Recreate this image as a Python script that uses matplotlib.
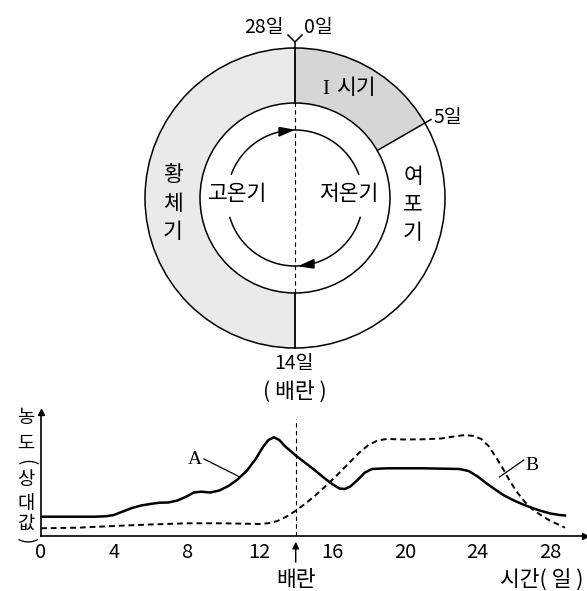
import numpy as np
import matplotlib
matplotlib.use('Agg')
import matplotlib.pyplot as plt
from matplotlib.patches import Wedge, Circle, Arc, Polygon

plt.rcParams['font.family'] = ['Noto Sans CJK KR', 'DejaVu Sans']

# --- cycle diagram (angles in degrees, 0 day at top) ---
phase_one_end_deg = 30      # 5일 boundary as drawn
outer_r, inner_r, loop_r = 150, 95, 68

# --- hormone curves: day vs relative concentration ---
days_a = [0, 3.0, 3.6, 4.0, 4.5, 5.0, 5.5, 6.0, 6.5, 7.0, 7.5, 8.0, 8.4, 8.8, 9.3, 9.8,
          10.3, 10.8, 11.3, 11.8, 12.2, 12.5, 12.8, 13.1, 13.4, 14.0, 14.5, 15.0, 15.5,
          16.0, 16.4, 16.7, 17.0, 17.4, 17.8, 18.2, 19.0, 21.0, 23.0, 23.5, 24.0, 24.5,
          25.0, 25.5, 26.0, 26.5, 27.0, 27.5, 28.0, 28.5, 28.8]
conc_a = [19.3, 19.3, 19.8, 21, 24.5, 28, 30.5, 32, 33.3, 33.5, 35.5, 39.5, 43.5, 44.3,
          43.5, 45.5, 50, 56.5, 65, 77, 89, 96, 98.7, 96, 90, 80.5, 73.5, 66.5, 59,
          52, 47.5, 47, 49.5, 56, 63.5, 67, 67.7, 67.7, 67, 65, 59.5, 52.5,
          46, 40, 35.5, 31.5, 28, 25, 22.5, 21, 20.5]
days_b = [0, 2, 4, 6, 8, 10, 12, 12.5, 13.0, 13.5, 14.0, 14.5, 15.0, 15.5, 16.0, 16.5,
          17.0, 17.5, 18.0, 18.5, 19.0, 20, 21, 22, 22.7, 23.3, 23.8, 24.2, 24.6, 25.0,
          25.4, 25.8, 26.2, 26.6, 27.0, 27.5, 28.0, 28.5, 28.8]
conc_b = [7.7, 8.3, 10, 11.5, 12.7, 12.7, 12, 12.8, 15, 19.5, 25.3, 32, 39.3, 47.5, 56, 65,
          74.3, 83.5, 91, 95.5, 97, 96.5, 96.7, 97.5, 99.5, 101, 100, 97, 90, 79,
          67, 54, 43, 34, 27, 20.5, 15, 11, 8.3]
xticks = [0, 4, 8, 12, 16, 20, 24, 28]
ovulation = 14

fig = plt.figure(figsize=(5.87, 5.91), dpi=100)

# top diagram axes: 1 unit = 1 pixel, origin at circle centre
top = fig.add_axes([0, 0, 1, 1])
top.set_xlim(-295, 292)
top.set_ylim(-393, 198)
top.axis('off')

def P(x, y):
    # reference pixel position -> diagram coords
    return x - 295, 198 - y

top.add_patch(Wedge((0, 0), outer_r, 90, 270, width=outer_r - inner_r, fc='#eaeaea', ec='none'))
top.add_patch(Wedge((0, 0), outer_r, phase_one_end_deg, 90, width=outer_r - inner_r, fc='#d6d6d6', ec='none'))
top.add_patch(Circle((0, 0), outer_r, fill=False, ec='black', lw=1.1))
top.add_patch(Circle((0, 0), inner_r, fill=False, ec='black', lw=1.1))
top.plot([0, 0], [inner_r, outer_r], color='black', lw=1.3)
top.plot([0, 0], [-inner_r, -outer_r], color='black', lw=1.3)
top.plot([0, 0], [-inner_r, inner_r], color='black', lw=0.8, ls=(0, (4, 3)))
a = np.deg2rad(phase_one_end_deg)
top.plot([inner_r * np.cos(a), 157 * np.cos(a)], [inner_r * np.sin(a), 157 * np.sin(a)], color='black', lw=1.1)
# Y mark at top
top.plot([0, 0], [outer_r, 156], color='black', lw=1.1)
top.plot([-7, 0, 7], [163, 156, 163], color='black', lw=1.1)

top.add_patch(Arc((0, 0), 2 * loop_r, 2 * loop_r, theta1=20, theta2=160, color='black', lw=1.1))
top.add_patch(Arc((0, 0), 2 * loop_r, 2 * loop_r, theta1=196, theta2=344, color='black', lw=1.1))
top.add_patch(Polygon([(-2, 68), (-16, 70.5), (-16, 62)], closed=True, fc='black', ec='black'))
top.add_patch(Polygon([(5, -68), (19, -70), (19, -61.5)], closed=True, fc='black', ec='black'))

fs = 14
fk = 15.5
labels = [('28일', 264, 27, fs), ('0일', 318, 27, fs), ('시기', 356, 88, fk), ('5일', 448, 117, fs),
          ('고온기', 238, 194, fk), ('저온기', 349, 194, fk), ('14일', 294, 364, fs),
          ('( 배란 )', 295, 392, fk)]
for s, x, y, f in labels:
    top.text(*P(x, y), s, ha='center', va='center', fontsize=f)
top.text(*P(326, 89), 'I', ha='center', va='center', fontsize=15, family='Liberation Serif')
for ch, y in zip('황체기', [175, 204, 232]):
    top.text(*P(173, y), ch, ha='center', va='center', fontsize=fk)
for ch, y in zip('여포기', [177, 205, 233]):
    top.text(*P(413, y), ch, ha='center', va='center', fontsize=fk)

# vertical y label
ylab = [('농', 418, 0), ('도', 443, 0), ('(', 462, -90), ('상', 480, 0), ('대', 503, 0),
        ('값', 523, 0), (')', 540, -90)]
for ch, y, rot in ylab:
    top.text(*P(26, y), ch, ha='center', va='center', fontsize=13.5, rotation=rot)

# --- graph ---
ax = fig.add_axes([41 / 587, 55 / 591, 544 / 587, 124.3 / 591])
ax.patch.set_alpha(0)
ax.plot(days_a, conc_a, color='black', lw=1.8)
ax.plot(days_b, conc_b, color='black', lw=1.4, ls=(0, (3, 2)))
ax.plot([ovulation, ovulation], [0, 117], color='black', lw=0.8, ls=(0, (4, 3)))
ax.set_xlim(0, 29.9)
ax.set_ylim(0, 124.3)
for sp in ['top', 'right']:
    ax.spines[sp].set_visible(False)
for sp in ['left', 'bottom']:
    ax.spines[sp].set_linewidth(1.2)
ax.plot(1, 0, '>k', transform=ax.transAxes, clip_on=False, ms=5)
ax.plot(0, 1, '^k', transform=ax.transAxes, clip_on=False, ms=5)
ax.set_xticks(xticks)
ax.set_xticklabels([str(t) for t in xticks], fontsize=14.5)
ax.tick_params(axis='x', length=0, pad=4)
ax.set_yticks([])

ax.annotate('', xy=(ovulation, -3), xytext=(ovulation, -29),
            arrowprops=dict(arrowstyle='-|>', color='black', lw=1, mutation_scale=10),
            annotation_clip=False)
ax.text(ovulation, -44, '배란', ha='center', va='center', fontsize=fk, clip_on=False)
ax.text(27.5, -44, '시간( 일 )', ha='center', va='center', fontsize=fk, clip_on=False)

ax.text(8.46, 76, 'A', ha='center', va='center', fontsize=14, family='Liberation Serif')
ax.plot([8.96, 10.93], [77, 59], color='black', lw=0.9)
ax.text(26.96, 71, 'B', ha='center', va='center', fontsize=14, family='Liberation Serif')
ax.plot([26.54, 25.2], [76, 59], color='black', lw=0.9)

fig.savefig('out.png', dpi=100)
